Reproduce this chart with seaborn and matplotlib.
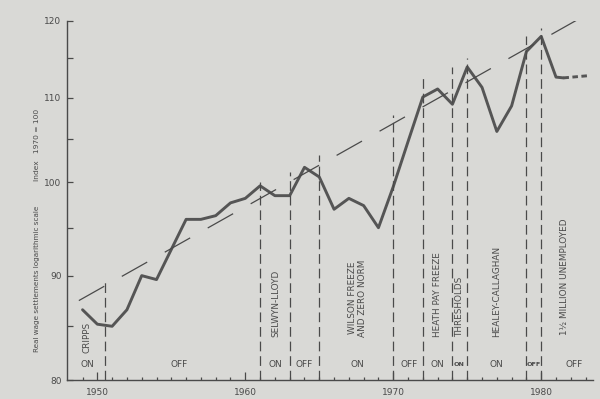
import matplotlib

matplotlib.use("Agg")

import matplotlib.pyplot as plt
import matplotlib.transforms as mtransforms
import numpy as np
import pandas as pd
import seaborn as sns

# real wage settlements index (1970 = 100)
years = [1949, 1950, 1951, 1952, 1953, 1954, 1955, 1956, 1957, 1958, 1959, 1960,
         1961, 1962, 1963, 1964, 1965, 1966, 1967, 1968, 1969, 1970, 1971, 1972,
         1973, 1974, 1975, 1976, 1977, 1978, 1979, 1980, 1981, 1981.5]
wage_index = [86.6, 85.2, 85.0, 86.6, 90.0, 89.6, 92.7, 95.9, 95.9, 96.3, 97.7, 98.2,
              99.6, 98.5, 98.5, 101.7, 100.6, 97.0, 98.2, 97.4, 95.0, 99.5, 104.7, 110.1,
              111.1, 109.2, 113.9, 111.3, 105.9, 109.0, 115.9, 117.9, 112.6, 112.5]

projection_years = [1981.5, 1983.3]
projection_index = [112.5, 112.8]

trend_years = [1948.75, 1982.6]
trend_index = [87.5, 120.3]

# policy boundaries: year and how high the dashed line reaches
policy_years = [1950.5, 1961, 1963, 1965, 1970, 1972, 1974, 1975, 1979, 1980]
policy_tops = [89.6, 100.0, 101.2, 103.1, 107.9, 112.5, 113.9, 115.0, 117.9, 119.0]

policy_names = ["CRIPPS", "SELWYN-LLOYD", "WILSON FREEZE\nAND ZERO NORM", "HEATH PAY FREEZE",
                "THRESHOLDS", "HEALEY-CALLAGHAN", "1½ MILLION UNEMPLOYED"]
policy_name_x = [1949.3, 1962.05, 1967.6, 1973.0, 1974.45, 1977.0, 1981.6]
policy_name_base = [0.075, 0.12, 0.12, 0.12, 0.12, 0.12, 0.125]

phase_labels = ["ON", "OFF", "ON", "OFF", "ON", "OFF", "ON", "ON", "ON", "OFF", "OFF"]
phase_x = [1949.3, 1955.5, 1962.05, 1964.0, 1967.6, 1971.1, 1973.0, 1974.45, 1977.0, 1979.5, 1982.2]
phase_size = [6.5, 6.5, 6.5, 6.5, 6.5, 6.5, 6.5, 4.6, 6.5, 4.6, 6.5]

y_ticks = [80, 90, 100, 110, 120]
y_minor = [85, 95, 105, 115]
x_labels = [1950, 1960, 1970, 1980]

paper = "#d9d9d6"
ink = "#4a4a4a"

sns.set_style("ticks")
plt.rcParams["lines.scale_dashes"] = False
plt.rcParams["font.family"] = ["DejaVu Sans"]

fig = plt.figure(figsize=(6, 3.99), dpi=100, facecolor=paper)
ax = fig.add_axes([67 / 600, 1 - 380 / 399, (593 - 67) / 600, (380 - 20.7) / 399])
ax.set_facecolor(paper)

df = pd.DataFrame({"year": years, "index": wage_index})
sns.lineplot(data=df, x="year", y="index", ax=ax, color="#555555", linewidth=2.1)

proj = pd.DataFrame({"year": projection_years, "index": projection_index})
sns.lineplot(data=proj, x="year", y="index", ax=ax, color="#555555", linewidth=2.1,
             dashes=False, linestyle=(0, (4, 2.5)))

ax.plot(trend_years, trend_index, color=ink, linewidth=0.9, dashes=(21, 14.5))

ax.vlines(policy_years, 80, policy_tops, colors=ink, linewidth=0.9,
          linestyles=[(0, (7, 3.5))])

ax.set_yscale("log")
ax.set_ylim(80, 120)
ax.set_xlim(1947.95, 1983.5)
ax.set_yticks(y_ticks)
ax.set_yticklabels([str(v) for v in y_ticks])
ax.set_yticks(y_minor, minor=True)
ax.yaxis.set_minor_formatter(matplotlib.ticker.NullFormatter())
ax.set_xticks(x_labels)
ax.set_xticklabels([str(v) for v in x_labels])
ax.set_xticks(np.arange(1949, 1984), minor=True)
ax.tick_params(axis="y", which="both", direction="in", length=4.3, width=0.9,
               color=ink, labelsize=6.5, labelcolor=ink, pad=4)
ax.tick_params(axis="x", which="major", direction="in", length=5.5, width=0.9,
               color=ink, labelsize=6.5, labelcolor=ink, pad=6)
ax.tick_params(axis="x", which="minor", direction="in", length=2.3, width=0.9, color=ink)
ax.set_xlabel("")
ax.set_ylabel("")
sns.despine(ax=ax)
for side in ["left", "bottom"]:
    ax.spines[side].set_color(ink)
    ax.spines[side].set_linewidth(1.0)

trans = mtransforms.blended_transform_factory(ax.transData, ax.transAxes)
for name, x, base in zip(policy_names, policy_name_x, policy_name_base):
    ax.text(x, base, name, transform=trans, rotation=90, ha="center", va="bottom",
            fontsize=6.4, color=ink, linespacing=1.1)
for lab, x, fs in zip(phase_labels, phase_x, phase_size):
    ax.text(x, 0.042, lab, transform=trans, ha="center", va="center", fontsize=fs,
            color=ink, fontweight="bold" if fs < 6 else "normal")

fig.text(37 / 600, 1 - 279 / 399, "Real wage settlements logarithmic scale", rotation=90,
         ha="center", va="center", fontsize=5.2, color=ink)
fig.text(37 / 600, 1 - 145 / 399, "Index   1970 = 100", rotation=90,
         ha="center", va="center", fontsize=5.4, color=ink)

fig.savefig("out.png", dpi=100, facecolor=paper)
